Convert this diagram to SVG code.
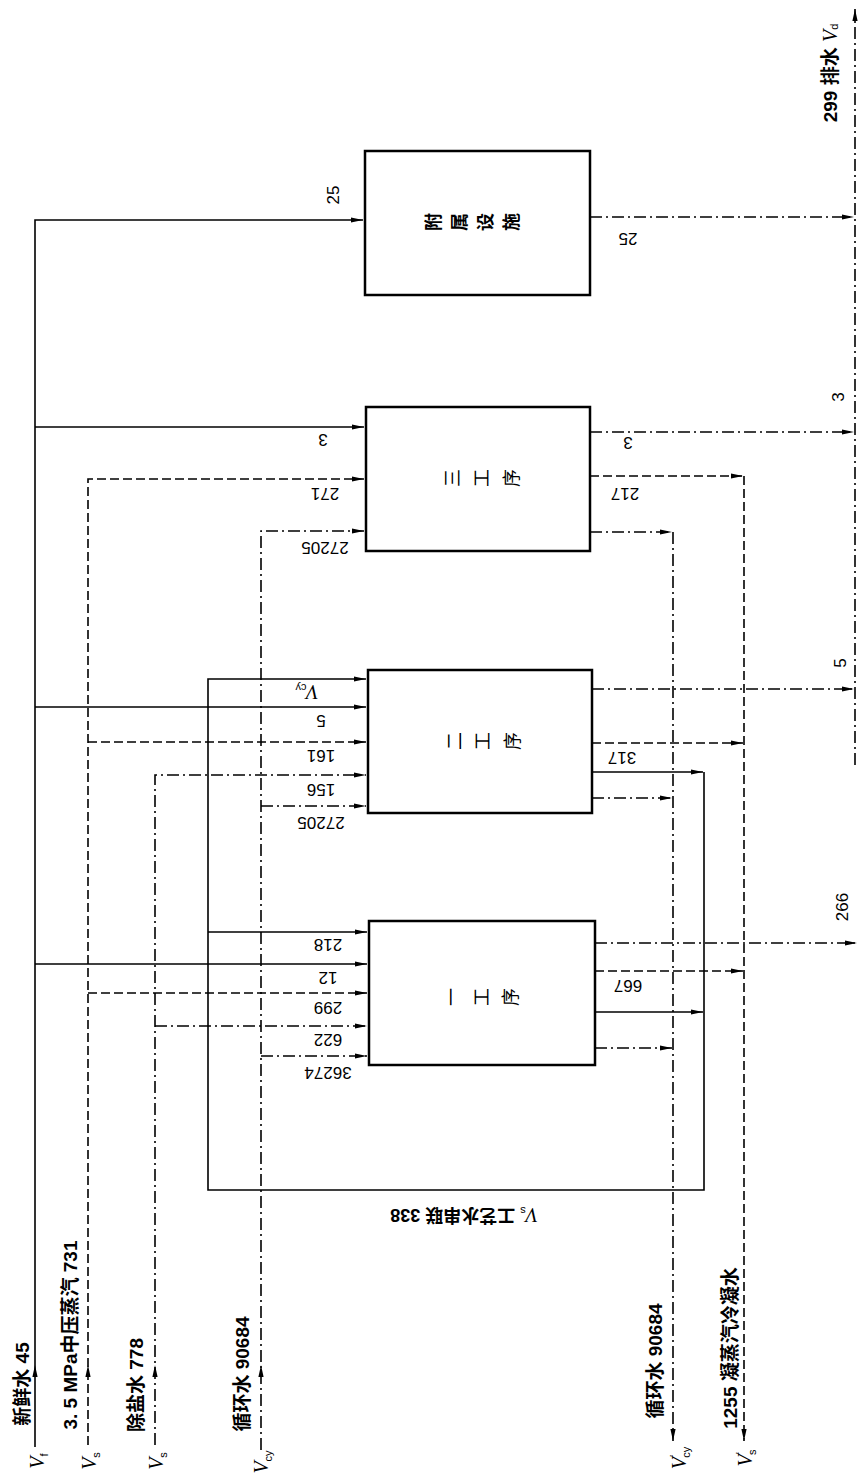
<svg xmlns="http://www.w3.org/2000/svg" width="858" height="1481" viewBox="0 0 858 1481">
<style>
.box{fill:none;stroke:#000;stroke-width:2.5}
.ln{fill:none;stroke:#000;stroke-width:1.6}
.da{stroke-dasharray:9 4}
.dd{stroke-dasharray:12 4 2 4}
.ah{fill:#000;stroke:none}
text{font-family:"Liberation Sans","Noto Sans CJK SC",sans-serif;fill:#000}
.n{font-size:17px}
.l{font-size:19px;font-weight:bold}
.bx{font-size:18px}
.bb{font-weight:bold}
.vi{font-family:"Liberation Serif",serif;font-style:italic;font-size:20px;font-weight:normal}
.sb{font-size:11px;font-weight:normal}
</style>
<defs>
<marker id="a" markerUnits="userSpaceOnUse" markerWidth="13" markerHeight="7" refX="12" refY="3.5" orient="auto"><path d="M0,0.9 L12,3.5 L0,6.1 z" fill="#000"/></marker>
</defs>

<g id="node-fushu">
<rect class="box" x="365" y="151" width="225" height="144"/>
<text class="bx bb" transform="translate(434,222) rotate(-90)" text-anchor="middle" dominant-baseline="central">附</text>
<text class="bx bb" transform="translate(460,222) rotate(-90)" text-anchor="middle" dominant-baseline="central">属</text>
<text class="bx bb" transform="translate(486,222) rotate(-90)" text-anchor="middle" dominant-baseline="central">设</text>
<text class="bx bb" transform="translate(512,222) rotate(-90)" text-anchor="middle" dominant-baseline="central">施</text>
</g>
<g id="node-3">
<rect class="box" x="366" y="407" width="224" height="144"/>
<text class="bx" transform="translate(453,478) rotate(-90)" text-anchor="middle" dominant-baseline="central">三</text>
<text class="bx" transform="translate(482,478) rotate(-90)" text-anchor="middle" dominant-baseline="central">工</text>
<text class="bx" transform="translate(512,478) rotate(-90)" text-anchor="middle" dominant-baseline="central">序</text>
</g>
<g id="node-2">
<rect class="box" x="368" y="670" width="224" height="143"/>
<text class="bx" transform="translate(455,741) rotate(-90)" text-anchor="middle" dominant-baseline="central">二</text>
<text class="bx" transform="translate(483,741) rotate(-90)" text-anchor="middle" dominant-baseline="central">工</text>
<text class="bx" transform="translate(513,741) rotate(-90)" text-anchor="middle" dominant-baseline="central">序</text>
</g>
<g id="node-1">
<rect class="box" x="369" y="921" width="226" height="144"/>
<text class="bx" transform="translate(452,997) rotate(-90)" text-anchor="middle" dominant-baseline="central">一</text>
<text class="bx" transform="translate(482,997) rotate(-90)" text-anchor="middle" dominant-baseline="central">工</text>
<text class="bx" transform="translate(511,997) rotate(-90)" text-anchor="middle" dominant-baseline="central">序</text>
</g>

<g id="connectors">
<path class="ln" d="M35,1447 V220 H363" marker-end="url(#a)"/>
<path class="ln" d="M35,427 H364" marker-end="url(#a)"/>
<path class="ln" d="M35,707 H366" marker-end="url(#a)"/>
<path class="ln" d="M35,964 H367" marker-end="url(#a)"/>
<path class="ln da" d="M88,1445 V479 H364" marker-end="url(#a)"/>
<path class="ln da" d="M88,742 H366" marker-end="url(#a)"/>
<path class="ln da" d="M88,993 H367" marker-end="url(#a)"/>
<path class="ln dd" d="M155,1445 V775 H366" marker-end="url(#a)"/>
<path class="ln dd" d="M155,1026 H367" marker-end="url(#a)"/>
<path class="ln dd" d="M261,1450 V531 H364" marker-end="url(#a)"/>
<path class="ln dd" d="M261,806 H366" marker-end="url(#a)"/>
<path class="ln dd" d="M261,1056 H367" marker-end="url(#a)"/>
<path class="ln" d="M704,772 V1190 H208 V679 H366" marker-end="url(#a)"/>
<path class="ln" d="M208,932 H367" marker-end="url(#a)"/>
<path class="ln" d="M592,772 H703" marker-end="url(#a)"/>
<path class="ln" d="M595,1012 H703" marker-end="url(#a)"/>
<path class="ln dd" d="M590,532 H672" marker-end="url(#a)"/>
<path class="ln dd" d="M592,798 H672" marker-end="url(#a)"/>
<path class="ln dd" d="M595,1048 H672" marker-end="url(#a)"/>
<path class="ln dd" d="M673,532 V1441" marker-end="url(#a)"/>
<path class="ln da" d="M590,476 H743" marker-end="url(#a)"/>
<path class="ln da" d="M592,743 H743" marker-end="url(#a)"/>
<path class="ln da" d="M595,971 H743" marker-end="url(#a)"/>
<path class="ln da" d="M744,476 V1441" marker-end="url(#a)"/>
<path class="ln dd" d="M590,217 H854" marker-end="url(#a)"/>
<path class="ln dd" d="M590,432 H854" marker-end="url(#a)"/>
<path class="ln dd" d="M592,689 H854" marker-end="url(#a)"/>
<path class="ln dd" d="M595,943 H857" marker-end="url(#a)"/>
<path class="ln dd" d="M855,765 V9" marker-end="url(#a)"/>
<path class="ah" d="M35,1365 l-2.6,12 h5.2 z"/>
<path class="ah" d="M88,1365 l-2.6,12 h5.2 z"/>
<path class="ah" d="M155,1365 l-2.6,12 h5.2 z"/>
<path class="ah" d="M261,1365 l-2.6,12 h5.2 z"/>
</g>

<g id="labels">
<text class="l" transform="translate(22,1384) rotate(-90)" text-anchor="middle" dominant-baseline="central">新鲜水 45</text>
<text class="l" transform="translate(70,1335) rotate(-90)" text-anchor="middle" dominant-baseline="central">3. 5 MPa中压蒸汽 731</text>
<text class="l" transform="translate(136,1385) rotate(-90)" text-anchor="middle" dominant-baseline="central">除盐水 778</text>
<text class="l" transform="translate(242,1374) rotate(-90)" text-anchor="middle" dominant-baseline="central">循环水 90684</text>
<text class="l" transform="translate(655,1361) rotate(-90)" text-anchor="middle" dominant-baseline="central">循环水 90684</text>
<text class="l" transform="translate(730,1348) rotate(-90)" text-anchor="middle" dominant-baseline="central" font-size="18">1255 凝蒸汽冷凝水</text>
<text class="l" transform="translate(830,73) rotate(-90)" text-anchor="middle" dominant-baseline="central">299 排水 <tspan class="vi">V</tspan><tspan class="sb" dy="4">d</tspan></text>

<text transform="translate(44,1461) rotate(-90)" text-anchor="middle"><tspan class="vi">V</tspan><tspan class="sb" dy="4">f</tspan></text>
<text transform="translate(96,1461) rotate(-90)" text-anchor="middle"><tspan class="vi">V</tspan><tspan class="sb" dy="4">s</tspan></text>
<text transform="translate(163,1461) rotate(-90)" text-anchor="middle"><tspan class="vi">V</tspan><tspan class="sb" dy="4">s</tspan></text>
<text transform="translate(268,1462) rotate(-90)" text-anchor="middle"><tspan class="vi">V</tspan><tspan class="sb" dy="4">cy</tspan></text>
<text transform="translate(686,1458) rotate(-90)" text-anchor="middle"><tspan class="vi">V</tspan><tspan class="sb" dy="-8">′</tspan><tspan class="sb" dx="-3" dy="12">cy</tspan></text>
<text transform="translate(752,1458) rotate(-90)" text-anchor="middle"><tspan class="vi">V</tspan><tspan class="sb" dy="-8">′</tspan><tspan class="sb" dx="-3" dy="12">s</tspan></text>

<text class="n" transform="translate(333,195) rotate(-90)" text-anchor="middle" dominant-baseline="central">25</text>
<text class="n" transform="translate(838,397) rotate(-90)" text-anchor="middle" dominant-baseline="central">3</text>
<text class="n" transform="translate(840,663) rotate(-90)" text-anchor="middle" dominant-baseline="central">5</text>
<text class="n" transform="translate(842,907) rotate(-90)" text-anchor="middle" dominant-baseline="central">266</text>

<text class="n" transform="translate(323,439) rotate(180)" text-anchor="middle" dominant-baseline="central">3</text>
<text class="n" transform="translate(325,493) rotate(180)" text-anchor="middle" dominant-baseline="central">271</text>
<text class="n" transform="translate(325,547) rotate(180)" text-anchor="middle" dominant-baseline="central">27205</text>
<text transform="translate(307,692) rotate(180)" text-anchor="middle" dominant-baseline="central"><tspan class="vi" font-size="18">V</tspan><tspan class="sb" dy="4">cy</tspan></text>
<text class="n" transform="translate(321,720) rotate(180)" text-anchor="middle" dominant-baseline="central">5</text>
<text class="n" transform="translate(321,755) rotate(180)" text-anchor="middle" dominant-baseline="central">161</text>
<text class="n" transform="translate(321,789) rotate(180)" text-anchor="middle" dominant-baseline="central">156</text>
<text class="n" transform="translate(321,822) rotate(180)" text-anchor="middle" dominant-baseline="central">27205</text>
<text class="n" transform="translate(328,944) rotate(180)" text-anchor="middle" dominant-baseline="central">218</text>
<text class="n" transform="translate(328,977) rotate(180)" text-anchor="middle" dominant-baseline="central">12</text>
<text class="n" transform="translate(328,1007) rotate(180)" text-anchor="middle" dominant-baseline="central">299</text>
<text class="n" transform="translate(328,1039) rotate(180)" text-anchor="middle" dominant-baseline="central">622</text>
<text class="n" transform="translate(328,1072) rotate(180)" text-anchor="middle" dominant-baseline="central">36274</text>
<text class="n" transform="translate(628,238) rotate(180)" text-anchor="middle" dominant-baseline="central">25</text>
<text class="n" transform="translate(628,442) rotate(180)" text-anchor="middle" dominant-baseline="central">3</text>
<text class="n" transform="translate(625,493) rotate(180)" text-anchor="middle" dominant-baseline="central">217</text>
<text class="n" transform="translate(622,757) rotate(180)" text-anchor="middle" dominant-baseline="central">317</text>
<text class="n" transform="translate(628,985) rotate(180)" text-anchor="middle" dominant-baseline="central">667</text>
<text class="bb" transform="translate(464,1215) rotate(180)" text-anchor="middle" dominant-baseline="central" font-size="18"><tspan class="vi" font-size="18">V</tspan><tspan class="sb" dy="4">s</tspan><tspan dy="-4"> 工艺水串联 338</tspan></text>
</g>
</svg>
